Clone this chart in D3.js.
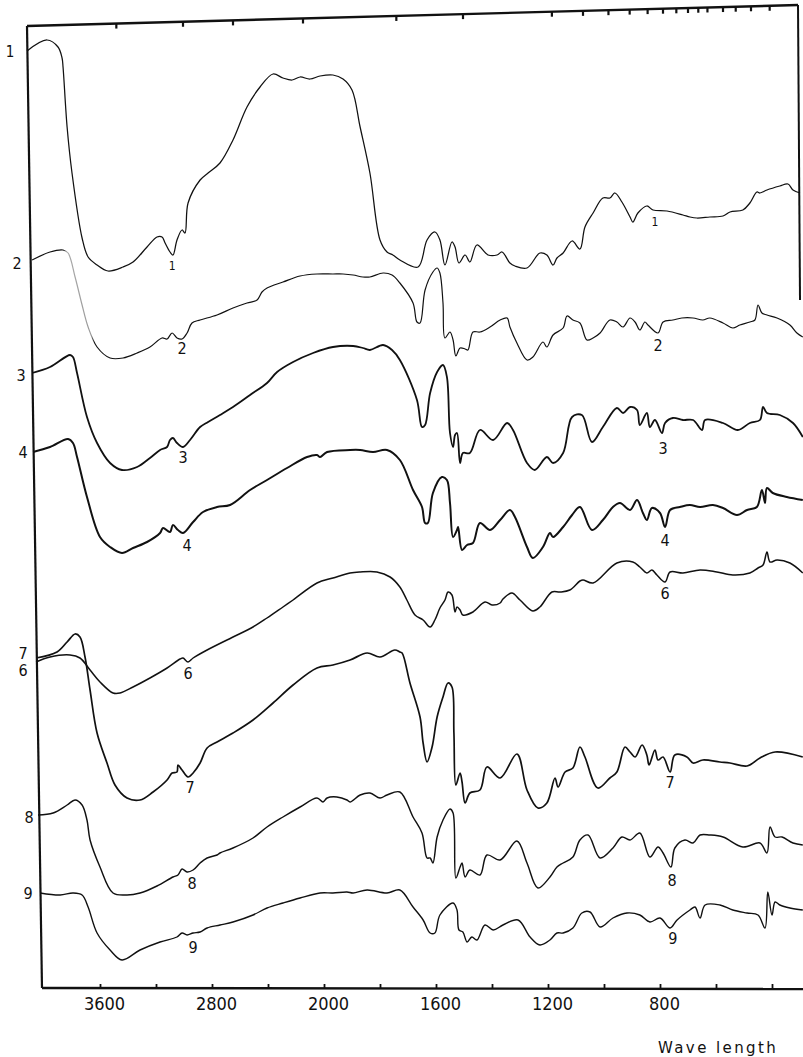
<!DOCTYPE html>
<html><head><meta charset="utf-8">
<script src="https://cdn.jsdelivr.net/npm/d3@7"></script>
<style>
html,body{margin:0;padding:0;background:#fff;}
svg{display:block;}
</style></head>
<body>
<script>
// ---- Data: IR spectra, [wavenumber cm-1, offset transmittance (arb. units)] ----
const spectrum1 = [[4121,939],[3978,950],[3900,943],[3871,932],[3864,923],[3835,863],[3800,817],[3728,752],[3685,733],[3621,725],[3543,719],[3435,723],[3364,728],[3264,743],[3193,753],[3157,753],[3135,747],[3100,738],[3079,735],[3050,750],[3014,760],[2993,757],[2971,787],[2885,810],[2828,817],[2743,827],[2650,850],[2550,883],[2457,903],[2364,916],[2293,912],[2228,910],[2171,913],[2100,911],[2028,914],[1968,915],[1932,911],[1900,900],[1871,863],[1836,817],[1800,750],[1775,738],[1754,735],[1729,730],[1664,723],[1632,750],[1604,758],[1586,750],[1568,725],[1543,748],[1532,743],[1518,727],[1496,735],[1479,728],[1454,745],[1414,735],[1382,735],[1364,738],[1336,727],[1318,724],[1275,722],[1229,737],[1204,735],[1182,725],[1168,732],[1146,737],[1114,749],[1086,741],[1068,763],[1039,777],[1004,792],[979,792],[961,797],[936,788],[907,773],[897,768],[879,777],[847,784],[825,780],[775,779],[718,775],[693,773],[668,772],[622,773],[575,774],[550,778],[504,780],[479,787],[454,798],[443,797],[418,800],[372,804],[343,806],[325,800],[300,797]];
const spectrum2 = [[4085,730],[3957,738],[3864,740],[3828,737],[3778,713],[3728,685],[3685,663],[3621,643],[3528,632],[3435,632],[3335,637],[3243,643],[3157,652],[3121,651],[3085,657],[3050,652],[3014,651],[2978,657],[2943,667],[2885,670],[2764,675],[2650,682],[2550,687],[2478,690],[2443,698],[2407,702],[2293,708],[2171,714],[2050,716],[1968,716],[1932,716],[1896,715],[1861,713],[1836,713],[1789,717],[1757,715],[1729,707],[1682,687],[1668,668],[1657,667],[1639,700],[1611,718],[1596,722],[1586,717],[1575,687],[1568,652],[1550,658],[1539,650],[1529,634],[1514,642],[1496,641],[1486,640],[1468,658],[1443,658],[1407,663],[1371,670],[1346,672],[1336,663],[1311,647],[1275,630],[1254,633],[1218,648],[1204,643],[1182,655],[1146,662],[1132,674],[1111,670],[1086,667],[1061,650],[1039,652],[1014,657],[979,670],[954,668],[932,663],[907,672],[889,668],[872,660],[854,668],[843,665],[807,657],[789,668],[754,670],[722,672],[682,672],[647,670],[622,672],[575,667],[540,662],[515,665],[479,668],[461,670],[450,685],[436,677],[418,675],[382,672],[336,665],[311,657],[290,653]];
const spectrum3 = [[4085,617],[3957,623],[3814,635],[3793,633],[3764,617],[3693,573],[3621,547],[3528,527],[3443,520],[3335,523],[3243,532],[3171,540],[3121,543],[3100,550],[3079,552],[3050,547],[3007,543],[2957,550],[2885,563],[2828,568],[2743,575],[2650,583],[2528,595],[2407,607],[2335,618],[2221,628],[2078,637],[1968,643],[1896,644],[1861,642],[1836,640],[1789,645],[1757,640],[1729,630],[1668,590],[1650,563],[1639,565],[1621,597],[1596,618],[1575,625],[1561,613],[1550,557],[1539,543],[1532,555],[1525,557],[1514,527],[1504,537],[1479,537],[1443,560],[1396,550],[1346,567],[1325,560],[1275,527],[1247,520],[1204,533],[1182,527],[1146,537],[1114,573],[1079,575],[1043,548],[1004,563],[954,582],[932,577],[907,583],[882,580],[872,565],[847,577],[836,563],[818,570],[793,557],[782,567],[754,572],[718,570],[682,570],[650,560],[639,570],[575,567],[522,560],[479,567],[443,570],[432,583],[418,577],[372,575],[325,567],[290,553]];
const spectrum4 = [[4078,538],[3957,543],[3828,551],[3793,547],[3764,533],[3693,493],[3600,453],[3528,443],[3443,437],[3364,442],[3264,448],[3171,457],[3150,462],[3100,458],[3079,465],[3043,460],[3007,457],[2935,468],[2864,478],[2764,483],[2671,485],[2528,500],[2407,510],[2264,522],[2121,533],[2050,535],[2028,533],[1989,538],[1907,540],[1871,540],[1825,538],[1775,540],[1729,530],[1682,500],[1650,483],[1639,467],[1629,467],[1611,497],[1579,513],[1561,510],[1550,487],[1539,453],[1525,460],[1521,463],[1507,440],[1489,445],[1468,447],[1443,467],[1407,460],[1371,470],[1336,480],[1318,473],[1275,443],[1254,432],[1218,443],[1193,457],[1182,453],[1146,463],[1114,475],[1086,483],[1043,460],[1004,470],[968,483],[943,487],[907,480],[882,490],[861,477],[847,470],[829,482],[800,477],[782,463],[764,480],[729,483],[693,485],[657,483],[611,485],[575,482],[525,475],[489,480],[454,483],[436,500],[425,487],[418,502],[397,497],[347,493],[290,490]];
const spectrum6 = [[4057,328],[3957,333],[3814,335],[3743,332],[3671,320],[3600,308],[3507,297],[3457,297],[3364,303],[3243,312],[3121,322],[3028,331],[3007,332],[2971,328],[2935,332],[2835,340],[2650,353],[2507,363],[2407,372],[2293,383],[2221,390],[2050,407],[1968,412],[1907,417],[1871,418],[1811,418],[1764,413],[1729,403],[1704,390],[1675,375],[1646,370],[1621,363],[1604,370],[1586,382],[1568,390],[1557,398],[1543,395],[1532,378],[1525,383],[1514,380],[1504,375],[1468,378],[1425,388],[1400,385],[1371,387],[1361,391],[1329,397],[1300,390],[1254,379],[1229,383],[1186,398],[1157,398],[1122,400],[1086,409],[1075,410],[1039,407],[954,427],[897,428],[872,423],[847,417],[829,420],[811,415],[782,408],[764,418],[718,417],[657,420],[597,418],[540,415],[479,417],[450,422],[432,425],[418,438],[407,428],[382,430],[336,427],[290,417]];
const spectrum7 = [[4057,332],[3907,338],[3835,348],[3778,356],[3743,353],[3707,333],[3671,300],[3621,257],[3550,227],[3493,205],[3407,192],[3314,190],[3221,198],[3121,210],[3085,217],[3050,218],[3043,225],[3014,220],[2971,213],[2935,217],[2885,227],[2835,242],[2764,248],[2650,257],[2507,270],[2364,287],[2221,305],[2050,322],[1968,325],[1907,330],[1846,337],[1800,333],[1747,340],[1729,338],[1721,337],[1693,307],[1657,273],[1646,247],[1632,228],[1614,243],[1596,273],[1575,293],[1557,307],[1543,303],[1536,257],[1529,205],[1514,217],[1507,208],[1496,187],[1479,197],[1443,200],[1418,223],[1371,212],[1311,236],[1275,200],[1236,182],[1204,187],[1175,212],[1164,203],[1139,218],[1111,222],[1086,243],[1068,233],[1022,202],[979,212],[954,218],[925,243],[907,238],[889,233],[864,245],[847,235],[839,225],[818,240],[807,230],[789,233],[764,218],[747,235],[704,233],[682,227],[647,230],[586,228],[550,227],[489,224],[443,232],[389,238],[290,233]];
const spectrum8 = [[4043,175],[3935,177],[3835,185],[3778,190],[3728,185],[3693,170],[3671,150],[3600,123],[3507,97],[3407,95],[3314,97],[3193,104],[3079,113],[3043,115],[3014,121],[2978,118],[2935,120],[2885,127],[2835,132],[2764,135],[2743,137],[2650,142],[2507,152],[2407,163],[2293,173],[2171,183],[2050,192],[2007,188],[1989,192],[1954,193],[1918,190],[1907,188],[1871,195],[1836,197],[1800,192],[1775,195],[1729,198],[1682,173],[1650,157],[1632,132],[1621,132],[1611,127],[1596,153],[1575,170],[1550,181],[1539,177],[1529,112],[1514,123],[1507,127],[1496,113],[1479,120],[1443,115],[1418,135],[1371,130],[1311,149],[1275,127],[1236,102],[1193,113],[1168,123],[1146,127],[1111,133],[1086,150],[1057,155],[1014,132],[968,142],[936,153],[907,150],[872,157],[836,133],[807,143],[789,137],[761,123],[747,142],[711,150],[682,147],[657,155],[622,155],[575,153],[504,143],[443,147],[418,137],[407,163],[389,153],[364,153],[325,147],[290,145]];
const spectrum9 = [[4028,97],[3885,95],[3793,97],[3728,95],[3685,83],[3621,57],[3528,40],[3443,30],[3314,40],[3171,48],[3050,53],[3014,57],[2978,55],[2935,57],[2885,58],[2835,62],[2743,65],[2650,68],[2507,75],[2407,82],[2293,87],[2171,92],[2028,97],[1968,97],[1918,98],[1896,97],[1846,100],[1775,97],[1729,100],[1682,83],[1646,70],[1621,57],[1604,57],[1586,75],[1539,87],[1525,80],[1518,60],[1504,58],[1489,48],[1472,53],[1454,50],[1425,65],[1396,60],[1361,65],[1307,70],[1264,53],[1229,45],[1193,50],[1168,57],[1146,57],[1111,62],[1079,77],[1050,78],[1014,63],[968,72],[918,77],[872,75],[836,68],[800,72],[764,62],[739,70],[693,80],[675,83],[657,72],[639,85],[586,85],[540,80],[489,77],[450,75],[425,62],[415,98],[400,75],[389,88],[372,85],[336,82],[290,80]];

const seriesNames = ["1","2","3","4","6","7","8","9"];
const seriesData  = [spectrum1, spectrum2, spectrum3, spectrum4, spectrum6, spectrum7, spectrum8, spectrum9];
const seriesWidth = [1.25, 1.2, 1.8, 2.0, 1.5, 1.7, 1.45, 1.4];
// faint (lightly inked) stretch of trace 2, in cm-1
const faintRange2 = [3860, 3640];

// labels at the start of each trace (wavenumber, value)
const startLabelText = ["1","2","3","4","7","6","8","9"];
const startLabelWn   = [4243,4193,4164,4150,4150,4150,4107,4114];
const startLabelVal  = [938,727,615,538,337,320,173,97];
// labels along traces
const traceLabelText = ["1","1","2","2","3","3","4","4","6","6","7","7","8","8","9","9"];
const traceLabelWn   = [3085,818,3014,807,3007,789,2978,782,2971,782,2957,764,2943,757,2935,754];
const traceLabelVal  = [724,768,642,645,533,542,445,450,317,397,203,208,107,110,43,52];

const bottomTicks = [3600,3200,2800,2400,2000,1800,1600,1400,1200,1000,800,600,400];
const bottomLabels = [3600,2800,2000,1600,1200,800];
const topTicksMicron = [3,3.5,4,5,6,7,9,10,11,12,13,14,15,16,17,18,20,22,25,30];
const axisTitle = "Wave length";

// ---- Layout ----
const W = 803, H = 1057;
const svg = d3.select("body").append("svg").attr("width", W).attr("height", H);

const x = d3.scaleLinear().domain([4000, 2000, 300]).range([44, 324, 800]);
const y = d3.scaleLinear().domain([0, 980]).range([990, 10]);

// gradient for the faint part of trace 2
const defs = svg.append("defs");
const grad = defs.append("linearGradient").attr("id", "faint2").attr("gradientUnits", "userSpaceOnUse")
  .attr("x1", 0).attr("x2", W).attr("y1", 0).attr("y2", 0);
const f0 = x(faintRange2[0]) / W, f1 = x(faintRange2[1]) / W;
[[0, "#111"], [f0, "#111"], [f0 + 0.004, "#aaa"], [f1 - 0.004, "#999"], [f1, "#111"], [1, "#111"]]
  .forEach(s => grad.append("stop").attr("offset", s[0]).attr("stop-color", s[1]));

// frame (hand-drawn, slightly skewed scan)
const frameTL = [27, 26], frameTR = [798, 5], frameBL = [42, 988], frameBR = [803, 989];
const topY = xx => frameTL[1] + (frameTR[1] - frameTL[1]) * (xx - frameTL[0]) / (frameTR[0] - frameTL[0]);

svg.append("line").attr("x1", frameTL[0]).attr("y1", frameTL[1]).attr("x2", frameTR[0]).attr("y2", frameTR[1])
  .attr("stroke", "#111").attr("stroke-width", 2.4);
svg.append("line").attr("x1", frameTL[0]).attr("y1", frameTL[1]).attr("x2", frameBL[0]).attr("y2", frameBL[1])
  .attr("stroke", "#111").attr("stroke-width", 2.2);
svg.append("line").attr("x1", frameBL[0]).attr("y1", frameBL[1]).attr("x2", frameBR[0]).attr("y2", frameBR[1])
  .attr("stroke", "#111").attr("stroke-width", 2.4);
svg.append("line").attr("x1", frameTR[0]).attr("y1", frameTR[1]).attr("x2", 800).attr("y2", 300)
  .attr("stroke", "#111").attr("stroke-width", 2);

// top micron ticks
svg.append("g").selectAll("line").data(topTicksMicron).join("line")
  .attr("x1", d => x(10000 / d) - 21).attr("x2", d => x(10000 / d) - 21)
  .attr("y1", d => topY(x(10000 / d) - 21)).attr("y2", d => topY(x(10000 / d) - 21) + 5)
  .attr("stroke", "#111").attr("stroke-width", 2.2);

// bottom axis
const axis = d3.axisBottom(x).tickValues(bottomTicks)
  .tickFormat(d => bottomLabels.includes(d) ? String(d) : "")
  .tickSizeInner(-4).tickSizeOuter(0).tickPadding(9);
const gAx = svg.append("g").attr("transform", "translate(0,988)").call(axis);
gAx.select(".domain").remove();
gAx.selectAll(".tick line").attr("stroke", "#111").attr("stroke-width", 1.8);
gAx.selectAll(".tick text").attr("fill", "#111")
  .attr("font-family", "'DejaVu Sans Condensed','DejaVu Sans',sans-serif")
  .attr("font-size", 18).attr("dx", 4);

svg.append("text").attr("x", 658).attr("y", 1053)
  .attr("font-family", "'DejaVu Sans',sans-serif").attr("font-size", 15)
  .attr("letter-spacing", 2.4).attr("fill", "#111").text(axisTitle);

// spectra
const line = d3.line().x(d => x(d[0])).y(d => y(d[1])).curve(d3.curveCatmullRom.alpha(0.5));
svg.append("g").selectAll("path").data(seriesData).join("path")
  .attr("d", line).attr("fill", "none")
  .attr("stroke", (d, i) => seriesNames[i] === "2" ? "url(#faint2)" : "#111")
  .attr("stroke-width", (d, i) => seriesWidth[i]).attr("stroke-linejoin", "round");

// labels
svg.append("g").selectAll("text").data(startLabelText).join("text")
  .attr("x", (d, i) => x(startLabelWn[i])).attr("y", (d, i) => y(startLabelVal[i]))
  .attr("text-anchor", "middle").attr("dominant-baseline", "central")
  .attr("font-family", "'DejaVu Sans Condensed','DejaVu Sans',sans-serif")
  .attr("font-size", (d, i) => i === 0 ? 15 : 16).attr("fill", "#111").text(d => d);

svg.append("g").selectAll("text").data(traceLabelText).join("text")
  .attr("x", (d, i) => x(traceLabelWn[i])).attr("y", (d, i) => y(traceLabelVal[i]))
  .attr("text-anchor", "middle").attr("dominant-baseline", "central")
  .attr("font-family", "'DejaVu Sans Condensed','DejaVu Sans',sans-serif")
  .attr("font-size", (d, i) => i < 2 ? 12 : 16).attr("fill", "#111").text(d => d);
</script>
</body></html>
